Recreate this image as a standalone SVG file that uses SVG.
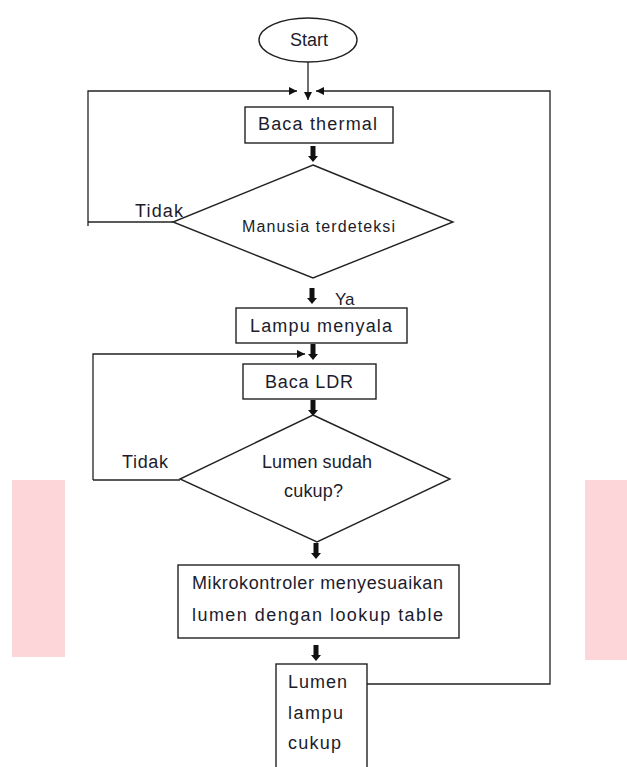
<svg xmlns="http://www.w3.org/2000/svg" width="627" height="767" viewBox="0 0 627 767">
<defs>
<style>
.shape{fill:#fff;stroke:#222;stroke-width:1.4}
.ln{fill:none;stroke:#222;stroke-width:1.3}
.t{font-family:"Liberation Sans",Arial,sans-serif;font-size:18px;fill:#1c1c2c}
.ts{font-family:"Liberation Sans",Arial,sans-serif;font-size:16px;fill:#1c1c2c}
.c{text-anchor:middle}
.blk{fill:#111}
</style>
<marker id="ah" viewBox="0 0 10 10" refX="10" refY="5" markerWidth="8" markerHeight="8" markerUnits="userSpaceOnUse" orient="auto">
<path d="M0,0 L10,5 L0,10 z" fill="#111"/>
</marker>
<path id="thick" d="M-2.5,0 H2.5 V10 H5 L0,16 L-5,10 H-2.5 Z"/>
</defs>
<rect x="12" y="480" width="53" height="177" fill="#fdd6da"/>
<rect x="585" y="480" width="42" height="180" fill="#fdd6da"/>
<g id="connectors">
<line class="ln" x1="308" y1="62" x2="308" y2="100" marker-end="url(#ah)"/>
<polyline class="ln" points="88,226 88,91 297,91" marker-end="url(#ah)"/>
<polyline class="ln" points="367,684 550,684 550,91 316,91" marker-end="url(#ah)"/>
<line class="ln" x1="88" y1="222" x2="173" y2="222"/>
<polyline class="ln" points="93,480 93,354 305,354" marker-end="url(#ah)"/>
<line class="ln" x1="93" y1="480" x2="180" y2="480"/>
<use href="#thick" class="blk" x="313" y="146"/>
<use href="#thick" class="blk" x="312" y="288"/>
<use href="#thick" class="blk" x="313" y="344"/>
<use href="#thick" class="blk" x="313" y="400"/>
<use href="#thick" class="blk" x="316" y="543"/>
<use href="#thick" class="blk" x="316" y="645"/>
<text class="t" x="135" y="217" textLength="48" lengthAdjust="spacing">Tidak</text>
<text class="t" x="335" y="305" style="font-size:17px">Ya</text>
<text class="t" x="122" y="468" textLength="46" lengthAdjust="spacing">Tidak</text>
</g>
<g id="start">
<ellipse class="shape" cx="308" cy="40" rx="49" ry="22"/>
<text class="t c" x="309" y="46">Start</text>
</g>
<g id="baca-thermal">
<rect class="shape" x="245" y="107" width="148" height="36"/>
<text class="t" x="258" y="130" textLength="119" lengthAdjust="spacing">Baca thermal</text>
</g>
<g id="manusia-terdeteksi">
<polygon class="shape" points="313,165 453,222 313,278 173,222"/>
<text class="ts" x="242" y="232" textLength="153" lengthAdjust="spacing">Manusia terdeteksi</text>
</g>
<g id="lampu-menyala">
<rect class="shape" x="236" y="308" width="171" height="35"/>
<text class="t" x="250" y="332" textLength="142" lengthAdjust="spacing">Lampu menyala</text>
</g>
<g id="baca-ldr">
<rect class="shape" x="243" y="364" width="133" height="35"/>
<text class="t" x="265" y="388" textLength="88" lengthAdjust="spacing">Baca LDR</text>
</g>
<g id="lumen-sudah-cukup">
<polygon class="shape" points="313,415 450,479 317,542 180,479"/>
<text class="t" x="262" y="468" textLength="110" lengthAdjust="spacing">Lumen sudah</text>
<text class="t" x="284" y="497" textLength="59" lengthAdjust="spacing">cukup?</text>
</g>
<g id="mikrokontroler">
<rect class="shape" x="178" y="565" width="281" height="73"/>
<text class="t" x="192" y="589" textLength="251" lengthAdjust="spacing">Mikrokontroler menyesuaikan</text>
<text class="t" x="192" y="621" textLength="251" lengthAdjust="spacing">lumen dengan lookup table</text>
</g>
<g id="lumen-lampu-cukup">
<rect class="shape" x="276" y="664" width="91" height="110"/>
<text class="t" x="288" y="688" textLength="59" lengthAdjust="spacing">Lumen</text>
<text class="t" x="288" y="719" textLength="55" lengthAdjust="spacing">lampu</text>
<text class="t" x="288" y="749" textLength="53" lengthAdjust="spacing">cukup</text>
</g>
</svg>
